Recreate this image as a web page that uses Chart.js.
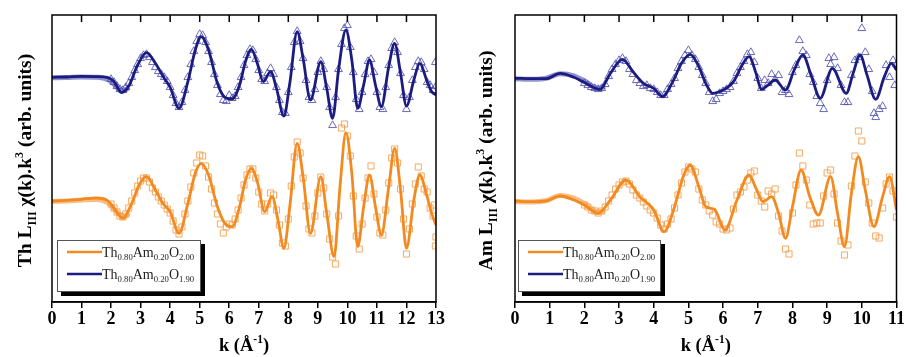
<!DOCTYPE html>
<html>
<head>
<meta charset="utf-8">
<script src="https://cdn.jsdelivr.net/npm/chart.js@4.4.0/dist/chart.umd.min.js"></script>
<style>
  html, body { margin: 0; padding: 0; background: #fff; }
  #wrap { display: flex; width: 906px; height: 357px; }
  #wrap > div { width: 453px; height: 357px; }
</style>
</head>
<body>
<div id="wrap">
  <div><canvas id="thChart" width="453" height="357"></canvas></div>
  <div><canvas id="amChart" width="453" height="357"></canvas></div>
</div>
<script>
// k^3-weighted EXAFS, Th L3 edge (left) and Am L3 edge (right)
// values are chi(k).k^3 in arbitrary units, [k, value]

const seriesNames = ['Th_{0.80}Am_{0.20}O_{2.00}', 'Th_{0.80}Am_{0.20}O_{1.90}'];
const thTicks = [0, 1, 2, 3, 4, 5, 6, 7, 8, 9, 10, 11, 12, 13];
const amTicks = [0, 1, 2, 3, 4, 5, 6, 7, 8, 9, 10, 11];

// vertical stacking of the two spectra
const offsetO200 = 10.1;
const offsetO190 = 22.47;

// ---- Th L3 : fits ----
const thFitO190 = [
  [0, 0], [0.5, 0.03], [1.0, 0.1], [1.5, 0.07], [1.9, -0.03], [2.1, -0.43], [2.35, -1.53],
  [2.6, -0.87], [2.9, 1.23], [3.2, 2.47], [3.5, 1.4], [3.8, -0.1], [4.0, -1.0], [4.3, -3.1],
  [4.6, -0.43], [4.85, 2.73], [5.05, 4.07], [5.3, 2.73], [5.6, -0.6], [5.85, -2.0], [6.1, -2.17],
  [6.35, -0.77], [6.55, 1.57], [6.75, 2.8], [6.95, 1.4], [7.15, -0.43], [7.4, 0.57], [7.6, -1.1],
  [7.85, -3.87], [8.05, -0.6], [8.3, 4.57], [8.5, 1.9], [8.75, -2.27], [9.1, 1.57], [9.3, -1.1],
  [9.5, -4.1], [9.7, 0.73], [9.95, 4.73], [10.15, 1.73], [10.35, -3.1], [10.55, -0.77],
  [10.75, 1.73], [10.95, -0.77], [11.15, -2.93], [11.4, 1.07], [11.6, 3.4], [11.8, 0.4],
  [12.0, -2.87], [12.25, -0.27], [12.45, 1.4], [12.7, -0.43], [12.85, -1.43], [13.0, -1.77]
];
const thFitO200 = [
  [0, 0], [0.5, 0.07], [1.0, 0.17], [1.5, 0.3], [1.9, 0], [2.1, -0.73], [2.4, -1.73],
  [2.7, -0.23], [2.95, 1.6], [3.2, 2.43], [3.5, 1.1], [3.75, -0.23], [4.0, -1.07], [4.3, -3.23],
  [4.6, -0.23], [4.85, 2.77], [5.05, 3.77], [5.3, 2.6], [5.6, -0.57], [5.9, -2.4], [6.1, -2.57],
  [6.35, -0.57], [6.55, 2.1], [6.75, 3.27], [6.95, 1.93], [7.2, -1.07], [7.45, 0.43], [7.65, -1.9],
  [7.85, -4.73], [8.05, -0.57], [8.3, 5.77], [8.5, 2.43], [8.75, -3.23], [9.1, 2.43], [9.3, -1.23],
  [9.55, -5.57], [9.75, 1.43], [9.95, 6.83], [10.15, 2.77], [10.35, -4.57], [10.55, -0.57],
  [10.75, 2.6], [10.95, -0.57], [11.15, -3.4], [11.4, 1.43], [11.6, 5.27], [11.8, 1.1],
  [12.0, -4.73], [12.25, 0.1], [12.45, 2.6], [12.7, 0.43], [12.85, -1.23], [13.0, -2.4]
];

// ---- Th L3 : low-k experimental trace ----
const thLowO190 = [[0, -0.05], [0.5, -0.03], [1.0, 0.03], [1.5, 0.0], [1.9, -0.25], [2.1, -0.7], [2.3, -1.25], [2.45, -1.3], [2.6, -1.0]];
const thLowO200 = [[0, -0.05], [0.5, 0.0], [1.0, 0.1], [1.5, 0.15], [1.9, -0.2], [2.1, -0.8], [2.3, -1.4], [2.45, -1.6], [2.6, -1.2]];

// ---- Th L3 : experimental points ----
const thDataO190 = [
  [2.0, -0.2], [2.1, -0.5], [2.2, -0.9], [2.3, -1.2], [2.4, -1.3], [2.5, -1.0], [2.6, -0.6], [2.7, 0.0],
  [2.8, 0.7], [2.9, 1.3], [3.0, 1.9], [3.1, 2.2], [3.2, 2.3], [3.3, 2.0], [3.4, 1.5], [3.5, 1.0],
  [3.6, 0.6], [3.7, 0.3], [3.8, 0.0], [3.9, -0.4], [4.0, -1.0], [4.1, -1.8], [4.2, -2.6], [4.3, -3.0],
  [4.4, -2.5], [4.5, -1.3], [4.6, 0.0], [4.7, 1.3], [4.8, 2.6], [4.9, 3.6], [5.0, 4.3], [5.1, 4.2],
  [5.2, 3.5], [5.3, 2.6], [5.4, 1.5], [5.5, 0.3], [5.6, -0.8], [5.7, -1.7], [5.8, -2.3], [5.9, -2.4],
  [6.0, -1.8], [6.1, -2.1], [6.2, -1.9], [6.3, -1.0], [6.4, 0.0], [6.5, 1.2], [6.6, 2.2], [6.7, 2.8],
  [6.8, 2.7], [6.9, 1.8], [7.0, 0.7], [7.1, -0.2], [7.2, -0.4], [7.3, 0.4], [7.4, 0.9], [7.5, 0.3],
  [7.6, -1.0], [7.7, -2.3], [7.8, -3.5], [7.9, -3.6], [8.0, -1.5], [8.1, 1.0], [8.2, 3.5], [8.3, 4.6],
  [8.4, 3.6], [8.5, 1.9], [8.6, -0.3], [8.7, -2.0], [8.8, -2.3], [8.9, -1.2], [9.0, 0.5], [9.1, 1.6],
  [9.2, 0.8], [9.3, -1.0], [9.4, -3.0], [9.5, -4.8], [9.6, -2.0], [9.7, 0.8], [9.8, 3.3], [9.9, 4.9],
  [10.0, 5.2], [10.1, 3.0], [10.2, 0.5], [10.3, -2.2], [10.4, -3.2], [10.5, -1.5], [10.6, 0.3], [10.7, 1.6],
  [10.8, 1.8], [10.9, 0.5], [11.0, -1.5], [11.1, -3.0], [11.2, -3.2], [11.3, -1.0], [11.4, 1.2], [11.5, 2.9],
  [11.6, 3.5], [11.7, 2.5], [11.8, 0.4], [11.9, -1.8], [12.0, -3.2], [12.1, -2.0], [12.2, -0.3], [12.3, 1.0],
  [12.4, 1.6], [12.5, 1.5], [12.6, 0.8], [12.7, -0.5], [12.8, -0.8], [12.9, -1.3], [12.98, 1.5], [13.0, -0.9]
];
const thDataO200 = [
  [2.0, -0.3], [2.1, -0.7], [2.2, -1.1], [2.3, -1.5], [2.4, -1.6], [2.5, -1.3], [2.6, -0.7], [2.7, 0.0],
  [2.8, 0.8], [2.9, 1.5], [3.0, 2.0], [3.1, 2.3], [3.2, 2.3], [3.3, 1.9], [3.4, 1.3], [3.5, 0.9],
  [3.6, 0.4], [3.7, 0.0], [3.8, -0.4], [3.9, -0.8], [4.0, -1.2], [4.1, -2.0], [4.2, -2.9], [4.3, -3.3],
  [4.4, -2.6], [4.5, -1.3], [4.6, 0.0], [4.7, 1.4], [4.8, 2.8], [4.9, 3.8], [5.0, 4.6], [5.1, 4.5],
  [5.2, 3.5], [5.3, 2.4], [5.4, 1.2], [5.5, -0.2], [5.6, -1.3], [5.7, -2.3], [5.8, -3.2], [5.9, -2.6],
  [6.0, -2.3], [6.1, -2.4], [6.2, -1.8], [6.3, -0.9], [6.4, 0.3], [6.5, 1.6], [6.6, 2.6], [6.7, 3.2],
  [6.8, 3.2], [6.9, 2.3], [7.0, 0.9], [7.1, -0.3], [7.2, -1.0], [7.3, -0.3], [7.4, 0.8], [7.5, 0.6],
  [7.6, -0.9], [7.7, -2.4], [7.8, -4.2], [7.9, -4.5], [8.0, -1.8], [8.1, 1.5], [8.2, 4.4], [8.3, 5.9],
  [8.4, 4.8], [8.5, 2.3], [8.6, -0.5], [8.7, -2.8], [8.8, -3.2], [8.9, -1.5], [9.0, 0.8], [9.1, 2.4],
  [9.2, 1.3], [9.3, -1.3], [9.4, -3.8], [9.5, -5.6], [9.6, -6.3], [9.7, -1.5], [9.8, 7.3], [9.9, 7.7],
  [10.0, 6.5], [10.1, 4.5], [10.2, 0.5], [10.3, -3.5], [10.4, -4.8], [10.5, -2.3], [10.6, 0.3], [10.7, 2.3],
  [10.8, 3.5], [10.9, 0.7], [11.0, -1.6], [11.1, -3.2], [11.2, -3.4], [11.3, -0.9], [11.4, 1.8], [11.5, 4.3],
  [11.6, 5.2], [11.7, 3.8], [11.8, 1.2], [11.9, -1.8], [12.0, -5.3], [12.1, -2.8], [12.2, -0.3], [12.3, 1.7],
  [12.4, 3.4], [12.5, 2.5], [12.6, 1.2], [12.7, 0.9], [12.8, -0.7], [12.9, -1.5], [12.95, -0.4], [12.98, -4.5], [13.0, -3.6]
];

// ---- Am L3 : fits ----
const amFitO190 = [
  [0, -0.1], [0.5, -0.13], [0.9, -0.13], [1.3, 0.4], [1.7, 0], [2.0, -0.53], [2.45, -1.2],
  [2.75, 0.4], [3.1, 1.8], [3.4, 0.57], [3.7, -0.6], [4.0, -1.1], [4.25, -1.93], [4.55, -0.43],
  [4.8, 1.4], [5.05, 2.3], [5.3, 1.07], [5.5, -0.6], [5.7, -1.6], [6.0, -1.27], [6.3, -0.43],
  [6.55, 1.23], [6.75, 2.07], [6.95, 0.4], [7.1, -1.2], [7.3, -0.77], [7.5, -0.27], [7.8, -1.27],
  [8.05, 0.73], [8.3, 2.23], [8.55, 0.07], [8.8, -2.1], [9.15, 0.9], [9.55, -1.6], [9.75, 0.4],
  [9.95, 2.23], [10.15, 0.23], [10.4, -2.2], [10.65, 0.07], [10.85, 1.4], [11.0, 0.73]
];
const amFitO200 = [
  [0, 0], [0.5, -0.07], [0.9, 0], [1.3, 0.5], [1.7, 0.1], [2.0, -0.4], [2.4, -1.23],
  [2.75, 0.1], [3.2, 2.1], [3.6, 0.43], [4.0, -0.9], [4.3, -3.07], [4.6, -0.57], [4.85, 2.43],
  [5.05, 3.6], [5.3, 1.43], [5.5, -0.57], [5.75, -0.83], [6.05, -2.9], [6.4, 0.1], [6.75, 2.6],
  [6.95, 1.27], [7.15, -0.07], [7.4, 0.43], [7.6, -1.23], [7.8, -3.73], [8.0, -0.57], [8.25, 3.1],
  [8.5, 0.43], [8.75, -1.4], [9.1, 2.43], [9.3, -1.23], [9.5, -4.57], [9.7, 0.77], [9.9, 4.43],
  [10.1, 1.1], [10.35, -2.57], [10.6, 0.43], [10.8, 2.43], [11.0, -0.9]
];

// ---- Am L3 : low-k experimental trace ----
const amLowO190 = [[0, -0.15], [0.5, -0.2], [0.9, -0.1], [1.3, 0.35], [1.7, 0.15], [2.0, -0.35], [2.4, -1.1], [2.6, -0.9]];
const amLowO200 = [[0, -0.05], [0.5, -0.1], [0.9, 0.05], [1.3, 0.55], [1.7, 0.3], [2.0, -0.25], [2.4, -1.15], [2.6, -0.9]];

// ---- Am L3 : experimental points ----
const amDataO190 = [
  [2.0, -0.6], [2.1, -0.8], [2.2, -1.0], [2.3, -1.1], [2.4, -1.2], [2.5, -1.1], [2.6, -0.7], [2.7, 0.1],
  [2.8, 0.8], [2.9, 1.3], [3.0, 1.7], [3.1, 1.9], [3.2, 1.6], [3.3, 0.8], [3.4, 0.3], [3.5, -0.3],
  [3.6, -0.6], [3.7, -0.9], [3.8, -0.8], [3.9, -1.1], [4.0, -1.2], [4.1, -1.5], [4.2, -1.8], [4.3, -1.8],
  [4.4, -1.2], [4.5, -0.7], [4.6, -0.1], [4.7, 0.9], [4.8, 1.6], [4.9, 2.2], [5.0, 2.7], [5.1, 2.2],
  [5.2, 1.8], [5.3, 1.0], [5.4, 0.2], [5.5, -0.6], [5.6, -1.5], [5.7, -2.4], [5.8, -2.2], [5.9, -1.6],
  [6.0, -1.4], [6.1, -1.2], [6.2, -1.0], [6.3, -0.4], [6.4, 0.4], [6.5, 1.0], [6.6, 1.6], [6.7, 2.3],
  [6.8, 2.5], [6.9, 1.5], [7.0, -0.1], [7.1, -1.1], [7.2, -0.3], [7.3, -0.6], [7.4, 0.3], [7.5, -0.2],
  [7.6, 0.2], [7.7, -1.5], [7.8, -1.3], [7.9, -1.7], [8.0, 0.5], [8.1, 1.2], [8.2, 3.7], [8.3, 2.6],
  [8.4, 2.2], [8.5, 0.3], [8.6, -0.5], [8.7, -1.9], [8.8, -2.6], [8.9, -3.2], [9.0, -0.3], [9.05, 1.9],
  [9.1, 1.3], [9.2, 2.0], [9.3, 0.9], [9.4, -0.8], [9.5, -2.5], [9.6, -2.5], [9.7, 0.2], [9.8, 1.7],
  [9.9, 2.0], [10.0, 4.9], [10.1, 2.5], [10.2, 0.8], [10.3, -1.4], [10.35, -3.6], [10.4, -4.0], [10.5, -3.2],
  [10.6, -2.9], [10.7, 1.2], [10.8, 0.0], [10.9, 1.7], [10.95, -0.8], [11.0, 1.3]
];
const amDataO200 = [
  [2.0, -0.4], [2.1, -0.6], [2.2, -0.9], [2.3, -1.0], [2.4, -1.2], [2.5, -1.0], [2.6, -0.6], [2.7, 0.0],
  [2.8, 0.6], [2.9, 1.2], [3.0, 1.6], [3.1, 1.9], [3.2, 2.0], [3.3, 1.7], [3.4, 1.1], [3.5, 0.6],
  [3.6, 0.3], [3.7, -0.1], [3.8, -0.5], [3.9, -0.9], [4.0, -1.2], [4.1, -1.7], [4.2, -2.4], [4.3, -2.8],
  [4.4, -2.3], [4.5, -1.8], [4.6, -0.7], [4.7, 0.6], [4.8, 1.8], [4.9, 2.9], [5.0, 3.4], [5.1, 3.2],
  [5.2, 2.9], [5.3, 1.2], [5.4, 0.1], [5.5, -0.4], [5.6, -1.0], [5.7, -1.4], [5.8, -2.1], [5.9, -2.3],
  [6.0, -2.8], [6.1, -2.9], [6.2, -2.7], [6.3, -0.8], [6.4, 0.6], [6.5, 0.9], [6.6, 1.4], [6.7, 2.1],
  [6.8, 2.8], [6.9, 3.0], [7.0, 0.6], [7.1, 0.0], [7.2, -0.6], [7.3, 1.0], [7.4, 0.7], [7.5, 1.2],
  [7.6, -1.5], [7.7, -3.0], [7.8, -4.8], [7.9, -5.3], [8.0, -1.2], [8.1, 1.6], [8.2, 4.8], [8.3, 3.5],
  [8.4, 2.1], [8.5, -0.4], [8.6, -2.3], [8.7, -2.2], [8.8, -2.2], [8.9, 0.5], [9.0, 2.8], [9.1, 3.1],
  [9.2, 0.7], [9.3, -2.2], [9.4, -4.0], [9.5, -5.4], [9.6, -4.4], [9.7, 1.5], [9.8, 4.5], [9.9, 7.0],
  [10.0, 6.0], [10.1, 1.9], [10.2, -0.2], [10.3, -2.2], [10.4, -3.5], [10.5, -3.7], [10.6, -0.7], [10.7, 1.7],
  [10.8, 2.4], [10.9, 1.0], [11.0, -1.6]
];

const navy = '#1c1c80';
const orange = '#f28a1f';
const serif = '"Liberation Serif", "Times New Roman", serif';

// split "Th_{0.80}Am^{3}" into plain / sub / sup runs
function parseRich(str) {
  const parts = [];
  const re = /([_^])\{([^}]*)\}|([^_^]+)/g;
  let m;
  while ((m = re.exec(str)) !== null) {
    if (m[3]) parts.push({ t: m[3], k: 0 });
    else parts.push({ t: m[2], k: m[1] === '_' ? 1 : -1 });
  }
  return parts;
}

function richWidth(ctx, parts, size, weight) {
  let w = 0;
  for (const p of parts) {
    const s = p.k ? size * 0.62 : size;
    ctx.font = weight + ' ' + s + 'px ' + serif;
    w += ctx.measureText(p.t).width;
  }
  return w;
}

// draws text on alphabetic baseline starting at x
function drawRich(ctx, str, x, y, size, weight) {
  const parts = parseRich(str);
  for (const p of parts) {
    const s = p.k ? size * 0.62 : size;
    ctx.font = weight + ' ' + s + 'px ' + serif;
    const dy = p.k === 1 ? size * 0.22 : (p.k === -1 ? -size * 0.42 : 0);
    ctx.fillText(p.t, x, y + dy);
    x += ctx.measureText(p.t).width;
  }
}

function drawRichCentered(ctx, str, cx, cy, size, weight, rotate) {
  const w = richWidth(ctx, parseRich(str), size, weight);
  ctx.save();
  ctx.translate(cx, cy);
  if (rotate) ctx.rotate(-Math.PI / 2);
  ctx.textAlign = 'left';
  ctx.textBaseline = 'alphabetic';
  ctx.fillStyle = '#000';
  drawRich(ctx, str, -w / 2, size * 0.33, size, weight);
  ctx.restore();
}

// frame, inner top ticks, axis titles and the shadowed legend box
const decorations = {
  id: 'decorations',
  afterDraw(chart, args, opts) {
    const ctx = chart.ctx;
    const a = chart.chartArea;
    const xs = chart.scales.x;
    ctx.save();
    ctx.strokeStyle = '#000';
    ctx.lineWidth = 1.5;
    ctx.strokeRect(a.left, a.top, a.right - a.left, a.bottom - a.top);
    ctx.beginPath();
    for (const t of xs.ticks) {
      const px = xs.getPixelForValue(t.value);
      if (px <= a.left + 1 || px >= a.right - 1) continue;
      ctx.moveTo(px, a.top);
      ctx.lineTo(px, a.top + 7);
    }
    ctx.stroke();

    drawRichCentered(ctx, opts.yTitle, opts.yTitleX, (a.top + a.bottom) / 2 + 2, 19.5, 'bold', true);
    drawRichCentered(ctx, 'k (Å^{-1})', (a.left + a.right) / 2, 345, 18.5, 'bold', false);

    // legend
    const lx = a.left + opts.legendDx, ly = 240, lw = opts.legendW, lh = 52;
    ctx.fillStyle = '#000';
    ctx.fillRect(lx + 4, ly + 4, lw, lh);
    ctx.fillStyle = '#fff';
    ctx.fillRect(lx, ly, lw, lh);
    ctx.strokeStyle = '#555';
    ctx.lineWidth = 1;
    ctx.strokeRect(lx + 0.5, ly + 0.5, lw - 1, lh - 1);
    const colors = [orange, navy];
    seriesNames.forEach((name, i) => {
      const yy = ly + 12 + i * 22;
      ctx.strokeStyle = colors[i];
      ctx.lineWidth = 2.5;
      ctx.beginPath();
      ctx.moveTo(lx + 10, yy);
      ctx.lineTo(lx + 45, yy);
      ctx.stroke();
      ctx.fillStyle = '#222';
      drawRich(ctx, name, lx + 45, yy + 5, 14, 'normal');
    });
    ctx.restore();
  }
};

function toPoints(pairs, offset) {
  return pairs.map(p => ({ x: p[0], y: p[1] + offset }));
}

function buildChart(id, cfg) {
  const datasets = [
    { data: toPoints(cfg.low200, offsetO200), showLine: true, borderColor: 'rgba(246,168,92,0.75)', borderWidth: 5, pointRadius: 0, cubicInterpolationMode: 'monotone', order: 3 },
    { data: toPoints(cfg.low190, offsetO190), showLine: true, borderColor: 'rgba(98,98,186,0.7)', borderWidth: 5, pointRadius: 0, cubicInterpolationMode: 'monotone', order: 3 },
    { data: toPoints(cfg.data200, offsetO200), showLine: false, pointStyle: 'rect', pointRadius: 4.3, borderWidth: 1, pointBorderColor: 'rgba(245,160,80,0.9)', pointBackgroundColor: 'rgba(255,255,255,0)', order: 2 },
    { data: toPoints(cfg.data190, offsetO190), showLine: false, pointStyle: 'triangle', pointRadius: 4.5, borderWidth: 1, pointBorderColor: 'rgba(80,80,175,0.85)', pointBackgroundColor: 'rgba(255,255,255,0)', order: 2 },
    { data: toPoints(cfg.fit200, offsetO200), showLine: true, borderColor: orange, borderWidth: 2.8, pointRadius: 0, cubicInterpolationMode: 'monotone', order: 1 },
    { data: toPoints(cfg.fit190, offsetO190), showLine: true, borderColor: navy, borderWidth: 2.8, pointRadius: 0, cubicInterpolationMode: 'monotone', order: 1 }
  ];

  return new Chart(document.getElementById(id), {
    type: 'scatter',
    data: { datasets },
    options: {
      responsive: false,
      animation: false,
      events: [],
      layout: { padding: { top: 15, right: cfg.padRight, left: 0, bottom: 0 } },
      plugins: {
        legend: { display: false },
        tooltip: { enabled: false },
        decorations: cfg.deco
      },
      scales: {
        x: {
          type: 'linear',
          min: 0,
          max: cfg.ticks[cfg.ticks.length - 1],
          afterBuildTicks: s => { s.ticks = cfg.ticks.map(v => ({ value: v })); },
          afterFit: s => { s.height = 55; },
          ticks: { color: '#000', padding: 1, font: { family: serif, size: 18, weight: 'bold' } },
          grid: { display: true, drawOnChartArea: false, drawTicks: true, tickLength: 6, color: '#000', lineWidth: 1.5 },
          border: { display: true, color: '#000', width: 1.5 }
        },
        y: {
          min: 0,
          max: 28.7,
          afterFit: s => { s.width = cfg.yWidth; },
          ticks: { display: false },
          grid: { display: false },
          border: { display: false }
        }
      }
    },
    plugins: [decorations]
  });
}

buildChart('thChart', {
  ticks: thTicks, padRight: 17, yWidth: 52,
  fit190: thFitO190, fit200: thFitO200, data190: thDataO190, data200: thDataO200,
  low190: thLowO190, low200: thLowO200,
  deco: { yTitle: 'Th L_{III} χ(k).k^{3} (arb. units)', yTitleX: 25, legendDx: 5, legendW: 144 }
});

buildChart('amChart', {
  ticks: amTicks, padRight: 7, yWidth: 62,
  fit190: amFitO190, fit200: amFitO200, data190: amDataO190, data200: amDataO200,
  low190: amLowO190, low200: amLowO200,
  deco: { yTitle: 'Am L_{III} χ(k).k^{3} (arb. units)', yTitleX: 33, legendDx: 3, legendW: 143 }
});
</script>
</body>
</html>
